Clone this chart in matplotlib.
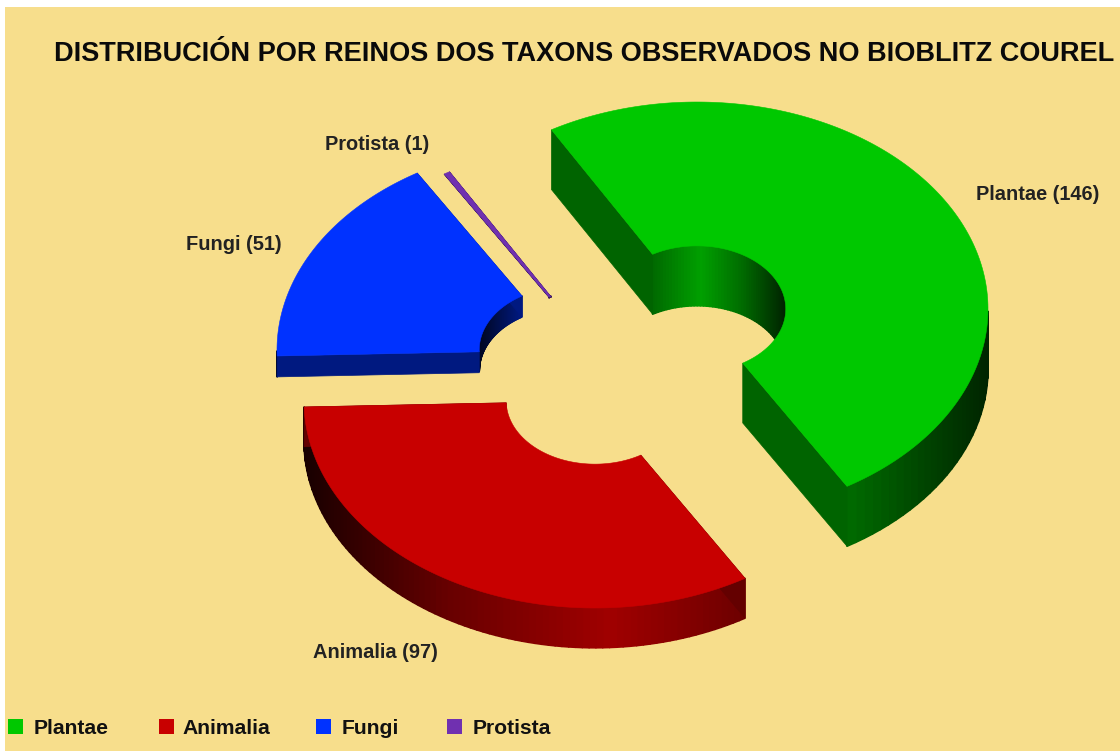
import numpy as np
import matplotlib
matplotlib.use("Agg")
import matplotlib.pyplot as plt
from matplotlib.collections import PolyCollection
from matplotlib.patches import Polygon, Rectangle

plt.rcParams['font.family'] = ['Liberation Sans', 'DejaVu Sans']

# datos
reinos = ["Plantae", "Animalia", "Fungi", "Protista"]
taxons = [146, 97, 51, 1]
cores = ["#00c800", "#c80000", "#0032ff", "#7030b0"]
titulo = "DISTRIBUCIÓN POR REINOS DOS TAXONS OBSERVADOS NO BIOBLITZ COUREL"

# xeometria da rosca en pixeles
centros = [(697, 309), (595, 401), (568, 350), (595, 351)]
axuste_angulos = [0, -0.8, -1.8, 0, 0]  # o grafico orixinal non cae exacto nos graos
etiquetas_pos = [(1038, 194), (375, 653), (234, 244), (377, 144)]
lenda_x = [8, 159, 316, 447]
lenda_texto_x = [34, 182, 342, 473]
RX, RY = 291, 207
HUECO = 0.305
ANGULO_INICIO = 120
ALTO_POR_TAXON = 0.41

fig = plt.figure(figsize=(11.2, 7.51), dpi=100, facecolor="white")
ax = fig.add_axes([0, 0, 1, 1])
ax.set_xlim(0, 1120)
ax.set_ylim(751, 0)
ax.axis("off")
ax.add_patch(Rectangle((5, 7), 1115, 744, color="#f7de8c", lw=0))


def brillo(c):
    return np.interp(c, [-1, -0.5, 0.05, 0.5, 1], [0.12, 0.52, 0.8, 0.55, 0.18])


def punto(centro, t, escala=1.0):
    return (centro[0] + RX * escala * np.cos(t), centro[1] - RY * escala * np.sin(t))


def parede(centro, a0, a1, escala, alto, cor, quere_arriba):
    # parede curva feita de tiras con degradado segundo o angulo
    ts = np.linspace(a0, a1, 90)
    base = np.array(matplotlib.colors.to_rgb(cor))
    tiras, cols = [], []
    for t0, t1 in zip(ts[:-1], ts[1:]):
        tm = (t0 + t1) / 2
        if (np.sin(tm) > 0) != quere_arriba:
            continue
        x0, y0 = punto(centro, t0, escala)
        x1, y1 = punto(centro, t1, escala)
        tiras.append([(x0, y0), (x1, y1), (x1, y1 + alto), (x0, y0 + alto)])
        cols.append(base * brillo(np.cos(tm)))
    if tiras:
        ax.add_collection(PolyCollection(tiras, facecolors=cols, edgecolors=cols, linewidths=1.2))


def cara(centro, t, alto, cor):
    x0, y0 = punto(centro, t, HUECO)
    x1, y1 = punto(centro, t)
    base = np.array(matplotlib.colors.to_rgb(cor))
    ax.add_patch(Polygon([(x0, y0), (x1, y1), (x1, y1 + alto), (x0, y0 + alto)],
                         facecolor=base * 0.5, edgecolor=base * 0.5, lw=0.5))


angulos = ANGULO_INICIO - np.cumsum([0] + taxons) * 360 / sum(taxons) + np.array(axuste_angulos)
orde = [3, 2, 0, 1]  # de atras para adiante
for i in orde:
    a0, a1 = np.radians(angulos[i]), np.radians(angulos[i + 1])
    alto = taxons[i] * ALTO_POR_TAXON
    c = centros[i]
    parede(c, a0, a1, HUECO, alto, cores[i], True)
    parede(c, a0, a1, 1.0, alto, cores[i], False)
    cara(c, a0, alto, cores[i])
    cara(c, a1, alto, cores[i])
    ts = np.linspace(a0, a1, 200)
    fora = [punto(c, t) for t in ts]
    dentro = [punto(c, t, HUECO) for t in ts[::-1]]
    ax.add_patch(Polygon(fora + dentro, facecolor=cores[i], edgecolor=cores[i], lw=0.4))

ax.text(584, 54, titulo, ha="center", va="center", fontsize=19.5, fontweight="bold", color="#0a0a0a")

for nome, n, (x, y) in zip(reinos, taxons, etiquetas_pos):
    ax.text(x, y, f"{nome} ({n})", ha="center", va="center", fontsize=14.4,
            fontweight="bold", color="#222222")

# lenda
for nome, cor, x, xt in zip(reinos, cores, lenda_x, lenda_texto_x):
    ax.add_patch(Rectangle((x, 719), 15, 15, color=cor, lw=0))
    ax.text(xt, 728, nome, ha="left", va="center", fontsize=15.2,
            fontweight="bold", color="#111111")

fig.savefig("out.png", dpi=100)
